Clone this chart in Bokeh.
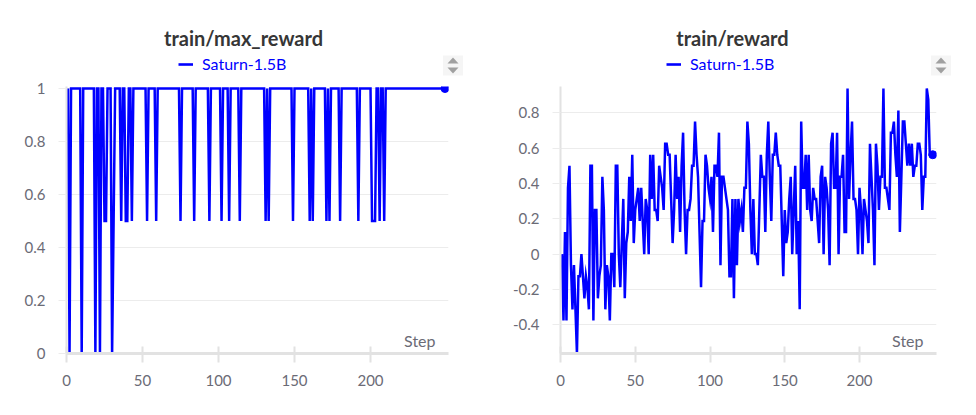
from bokeh.plotting import figure
from bokeh.models import (Range1d, FixedTicker, NumeralTickFormatter, Label, Legend,
                          LegendItem, PolyAnnotation, BoxAnnotation)
from bokeh.layouts import row, column
from bokeh.embed import file_html
from bokeh.resources import INLINE

# ---------------- data ----------------
series_name = "Saturn-1.5B"
titles = ["train/max_reward", "train/reward"]
x_ticks = [0, 50, 100, 150, 200]
y_ticks_max = [0, 0.2, 0.4, 0.6, 0.8, 1]
y_ticks_rew = [-0.4, -0.2, 0, 0.2, 0.4, 0.6, 0.8]

max_reward = [
    1, 0, 1, 1, 1, 1, 1, 1, 1, 0,
    1, 1, 1, 1, 1, 1, 1, 1, 0, 1,
    1, 0, 1, 1, 0.5, 0.5, 1, 1, 1, 0,
    0.5, 1, 1, 1, 1, 0.5, 1, 1, 0.5, 0.5,
    1, 1, 0.5, 1, 1, 1, 1, 1, 1, 1,
    1, 1, 0.5, 1, 1, 1, 1, 1, 0.5, 1,
    1, 1, 1, 1, 1, 1, 1, 1, 1, 1,
    1, 1, 1, 1, 0.5, 1, 1, 1, 1, 1,
    1, 1, 1, 0.5, 1, 1, 1, 1, 1, 1,
    1, 1, 1, 0.5, 1, 1, 1, 1, 1, 1,
    1, 0.5, 1, 1, 1, 1, 0.5, 1, 1, 1,
    1, 1, 1, 0.5, 1, 1, 1, 1, 1, 1,
    1, 1, 1, 1, 1, 1, 1, 1, 1, 1,
    0.5, 1, 0.5, 1, 1, 1, 1, 1, 1, 1,
    1, 1, 1, 1, 1, 1, 1, 1, 0.5, 1,
    1, 1, 1, 1, 1, 1, 1, 1, 1, 0.5,
    1, 0.5, 1, 1, 1, 1, 1, 1, 1, 1,
    0.5, 1, 0.5, 1, 1, 1, 1, 1, 1, 0.5,
    1, 1, 1, 1, 1, 1, 1, 1, 1, 1,
    1, 0.5, 1, 1, 1, 1, 1, 1, 1, 1,
    0.5, 0.5, 0.5, 1, 1, 0.5, 1, 1, 0.5, 1,
    1, 1, 1, 1, 1, 1, 1, 1, 1, 1,
    1, 1, 1, 1, 1, 1, 1, 1, 1, 1,
    1, 1, 1, 1, 1, 1, 1, 1, 1, 1,
    1, 1, 1, 1, 1, 1, 1, 1, 1,
]

reward = [
    0, -0.375, 0.125, -0.375, 0.375, 0.5, -0.0625, -0.3125, -0.0625, -0.3125,
    -0.5625, -0.125, -0.125, 0, -0.125, -0.25, -0.125, -0.1875, -0.3125, 0.5,
    0.5, -0.375, 0.25, 0.25, -0.25, -0.125, -0.0625, 0.4375, 0.25, -0.3125,
    -0.0625, -0.125, -0.375, 0, 0, -0.1875, 0.5, 0.5, 0, -0.1875,
    0.0625, 0.3125, -0.25, 0.0625, 0.125, 0.4375, 0.1875, 0.5625, 0.0625, 0.25,
    0.3125, 0.375, 0.1875, 0.375, 0.1875, 0, 0.3125, 0.25, 0, 0.5625,
    0.3125, 0.5625, 0.25, 0.25, 0.1875, 0.5, 0.4375, 0.375, 0.25, 0.625,
    0.625, 0.5625, 0.5625, 0.3125, 0.0625, 0.25, 0.5625, 0.3125, 0.4375, 0.125,
    0.5, 0.6875, 0.25, 0, 0.25, 0.25, 0.3125, 0.5, 0.5, 0.75,
    0.5625, 0.4375, 0.125, -0.1875, 0.1875, 0.1875, 0.5625, 0.5, 0.375, 0.3125,
    0.4375, 0.125, 0.5, 0.5, 0.4375, 0.6875, -0.0625, 0.4375, 0.4375, 0.375,
    0.3125, 0.25, -0.125, -0.125, 0.3125, -0.25, 0.3125, -0.0625, 0.3125, 0.1875,
    0.25, 0.125, 0.375, 0.375, 0.75, 0.625, 0.25, 0, 0.3125, 0,
    0, -0.0625, 0.25, 0.5625, 0.4375, 0.4375, 0.125, 0.5625, 0.75, 0.4375,
    0.1875, 0.5625, 0.5625, 0.6875, 0.5625, 0.5, 0.5, 0.1875, -0.125, 0.25,
    0.0625, 0.125, 0.3125, 0.4375, 0, 0.25, 0.5, 0, 0.1875, -0.3125,
    0.75, 0.375, 0.375, 0.5625, 0.25, 0.5625, 0.25, 0.1875, 0.375, 0.3125,
    0.3125, 0.1875, 0.0625, 0.4375, 0.5, 0, 0.4375, 0.375, 0.25, -0.0625,
    0.625, 0.6875, 0.375, 0.375, 0.6875, 0, 0.4375, 0.4375, 0.5625, 0.125,
    0.125, 0.9375, 0.3125, 0.5625, 0.75, 0.3125, 0.3125, 0.25, 0, 0.375,
    0.25, 0, 0.3125, 0.25, 0.1875, 0.0625, 0.625, 0.4375, 0.25, -0.0625,
    0.625, 0.5, 0.25, 0.4375, 0.4375, 0.9375, 0.375, 0.375, 0.3125, 0.25,
    0.6875, 0.6875, 0.75, 0.5625, 0.4375, 0.8125, 0.125, 0.4375, 0.75, 0.75,
    0.625, 0.5, 0.625, 0.5, 0.625, 0.4375, 0.5, 0.5, 0.625, 0.625,
    0.5625, 0.25, 0.4375, 0.4375, 0.9375, 0.875, 0.5625, 0.5625, 0.5625,
]

steps_max = list(range(1, len(max_reward) + 1))
steps_rew = list(range(1, len(reward) + 1))

# ---------------- styling ----------------
BLUE = "#0000ff"
FONT = "Lato"
TICK_COLOR = "#6b6b76"
TITLE_COLOR = "#363636"
GRID_COLOR = "#ececec"
AXIS_COLOR = "#e2e2e2"
ICON_COLOR = "#a0a0a0"
HEADER_H = 76


def header(title, xs, ys, width, title_x, legend_x, icon_x):
    # header strip: title, legend and sort icon (ranges chosen so that the
    # legend's source line lies outside the view)
    h = figure(width=width, height=HEADER_H,
               x_range=Range1d(0, 1), y_range=Range1d(2, 3),
               min_border=0, x_axis_type=None, y_axis_type=None,
               output_backend="svg", toolbar_location=None)
    h.grid.visible = False
    h.outline_line_color = None
    h.background_fill_color = "white"
    h.border_fill_color = "white"

    h.add_layout(Label(x=title_x, y=39, x_units="screen", y_units="screen",
                       text=title, text_font=FONT, text_font_style="bold",
                       text_font_size="20px", text_color=TITLE_COLOR,
                       text_align="center", text_baseline="middle"))

    swatch = h.line(xs, ys, line_color=BLUE, line_width=2.6)
    legend = Legend(items=[LegendItem(label=series_name, renderers=[swatch])],
                    location=(legend_x, 3), orientation="horizontal",
                    padding=0, margin=0, spacing=0,
                    glyph_width=15, glyph_height=18, label_height=18,
                    label_standoff=9,
                    label_text_font=FONT, label_text_font_size="16px",
                    label_text_color=BLUE,
                    border_line_color=None, background_fill_alpha=0)
    h.add_layout(legend, "center")

    # sort icon (decoration)
    h.add_layout(BoxAnnotation(left=icon_x - 10, right=icon_x + 10, bottom=1, top=21,
                               left_units="screen", right_units="screen",
                               bottom_units="screen", top_units="screen",
                               fill_color="#f5f5f5", fill_alpha=1, line_color=None))
    h.add_layout(PolyAnnotation(xs=[icon_x - 5.5, icon_x + 5.5, icon_x], ys=[13, 13, 19],
                                xs_units="screen", ys_units="screen",
                                fill_color=ICON_COLOR, fill_alpha=1, line_color=None))
    h.add_layout(PolyAnnotation(xs=[icon_x - 5.5, icon_x + 5.5, icon_x], ys=[9, 9, 3],
                                xs_units="screen", ys_units="screen",
                                fill_color=ICON_COLOR, fill_alpha=1, line_color=None))
    return h


def chart(xs, ys, width, x_end, y_start, y_end, yticks, ml, mr, step_x):
    p = figure(width=width, height=407 - HEADER_H,
               x_range=Range1d(0, x_end), y_range=Range1d(y_start, y_end),
               min_border_left=ml, min_border_right=mr,
               min_border_top=10, min_border_bottom=54,
               output_backend="svg", toolbar_location=None)
    p.outline_line_color = None
    p.background_fill_color = "white"
    p.border_fill_color = "white"

    p.line(xs, ys, line_color=BLUE, line_width=2.5, line_join="miter")
    p.scatter([xs[-1]], [ys[-1]], size=8, color=BLUE)

    p.xaxis.ticker = FixedTicker(ticks=x_ticks)
    p.yaxis.ticker = FixedTicker(ticks=yticks)
    p.yaxis.formatter = NumeralTickFormatter(format="0.[0]")
    for ax in (p.xaxis, p.yaxis):
        ax.major_label_text_font = FONT
        ax.major_label_text_font_size = "15px"
        ax.major_label_text_color = TICK_COLOR
        ax.minor_tick_line_color = None
        ax.axis_line_color = AXIS_COLOR
    p.xaxis.axis_line_width = 3
    p.xaxis.major_tick_line_color = AXIS_COLOR
    p.xaxis.major_tick_line_width = 2
    p.xaxis.major_tick_in = 7
    p.xaxis.major_tick_out = 9
    p.xaxis.major_label_standoff = 12
    p.yaxis.axis_line_width = 2
    p.yaxis.major_tick_line_color = GRID_COLOR
    p.yaxis.major_tick_line_width = 1
    p.yaxis.major_tick_in = 0
    p.yaxis.major_tick_out = 8
    p.yaxis.major_label_standoff = 13

    p.xgrid.grid_line_color = None
    p.ygrid.grid_line_color = GRID_COLOR
    p.ygrid.grid_line_width = 1

    p.add_layout(Label(x=step_x, y=13, x_units="screen", y_units="screen",
                       text="Step", text_font=FONT, text_font_size="16px",
                       text_color=TICK_COLOR, text_align="right",
                       text_baseline="middle"))
    return p


h1 = header(titles[0], steps_max, max_reward, 488, title_x=243, legend_x=178, icon_x=452.5)
c1 = chart(steps_max, max_reward, 488, 251.3, 0, 1.0075, y_ticks_max, 66, 40, step_x=369)
h2 = header(titles[1], steps_rew, reward, 480, title_x=244, legend_x=178, icon_x=452.5)
c2 = chart(steps_rew, reward, 480, 251.5, -0.5625, 0.9488, y_ticks_rew, 72, 32, step_x=363)

layout = row(column(row(h1), c1), column(row(h2), c2))
open("out.html", "w").write(file_html(layout, INLINE))
